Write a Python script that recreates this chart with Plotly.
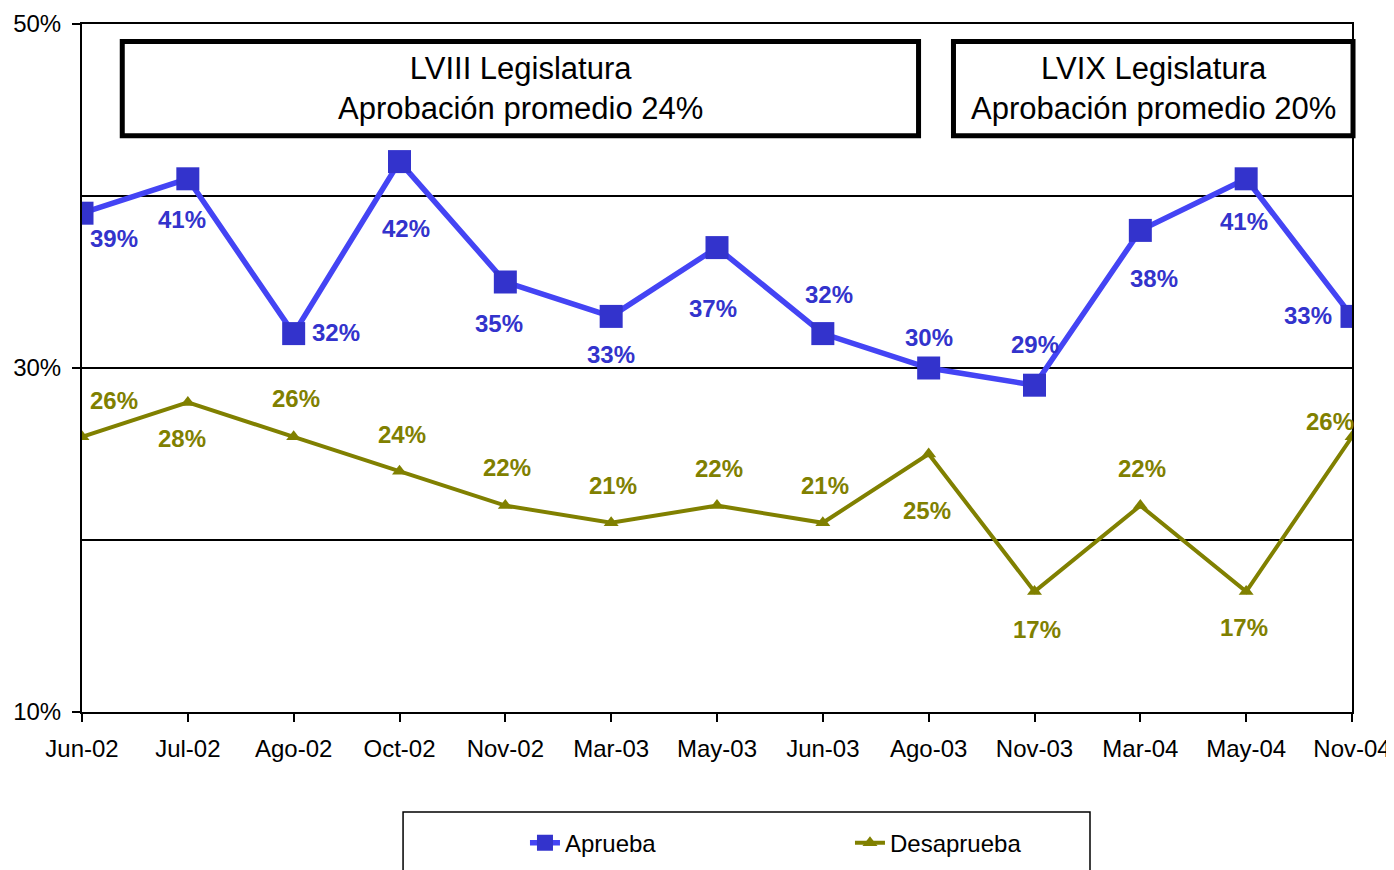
import plotly.graph_objects as go

months = ['Jun-02', 'Jul-02', 'Ago-02', 'Oct-02', 'Nov-02', 'Mar-03', 'May-03',
          'Jun-03', 'Ago-03', 'Nov-03', 'Mar-04', 'May-04', 'Nov-04']
aprueba = [39, 41, 32, 42, 35, 33, 37, 32, 30, 29, 38, 41, 33]
desaprueba = [26, 28, 26, 24, 22, 21, 22, 21, 25, 17, 22, 17, 26]

# label offsets in pixels (dx, dy screen-down)
off_aprueba = [(32, 25), (-6, 41), (42, -1), (6, 67), (-6, 41), (0, 38), (-4, 61),
               (6, -39), (0, -31), (0, -41), (14, 48), (-2, 43), (-44, -1)]
off_desaprueba = [(32, -36), (-6, 36), (2, -38), (2, -37), (2, -38), (2, -37), (2, -37),
                  (2, -37), (-2, 56), (2, 38), (2, -37), (-2, 36), (-22, -15)]

FONT = 'Liberation Sans, Arial, sans-serif'
BLUE_LINE = '#4444F4'
BLUE = '#3333CC'
OLIVE = '#808000'

fig = go.Figure()
fig.add_trace(go.Scatter(
    x=months, y=aprueba, name='Aprueba', mode='lines+markers',
    line=dict(color=BLUE_LINE, width=5.5),
    marker=dict(symbol='square', size=23, color=BLUE),
))
fig.add_trace(go.Scatter(
    x=months, y=desaprueba, name='Desaprueba', mode='lines+markers',
    line=dict(color=OLIVE, width=4),
    marker=dict(symbol='triangle-up', size=13, color=OLIVE),
))

annotations = []
for m, v, (dx, dy) in zip(months, aprueba, off_aprueba):
    annotations.append(dict(x=m, y=v, xref='x', yref='y', text=f'{v}%', showarrow=False,
                            xshift=dx, yshift=-dy,
                            font=dict(family=FONT, size=24, color=BLUE, weight='bold')))
for m, v, (dx, dy) in zip(months, desaprueba, off_desaprueba):
    annotations.append(dict(x=m, y=v, xref='x', yref='y', text=f'{v}%', showarrow=False,
                            xshift=dx, yshift=-dy,
                            font=dict(family=FONT, size=24, color=OLIVE, weight='bold')))

# legislature boxes
annotations.append(dict(x=0.3453, y=0.906, xref='paper', yref='paper', showarrow=False,
                        xanchor='center', yanchor='middle',
                        text='LVIII Legislatura<br>Aprobación promedio 24%',
                        font=dict(family=FONT, size=31, color='black')))
annotations.append(dict(x=0.8435, y=0.906, xref='paper', yref='paper', showarrow=False,
                        xanchor='center', yanchor='middle',
                        text='LVIX Legislatura<br>Aprobación promedio 20%',
                        font=dict(family=FONT, size=31, color='black')))

shapes = [
    dict(type='rect', xref='paper', yref='paper', x0=0.0317, x1=0.6587, y0=0.8375, y1=0.9745,
         line=dict(color='black', width=5), fillcolor='white', layer='below'),
    dict(type='rect', xref='paper', yref='paper', x0=0.6862, x1=1.0008, y0=0.8375, y1=0.9745,
         line=dict(color='black', width=5), fillcolor='white', layer='below'),
    dict(type='rect', xref='paper', yref='paper', x0=0.2528, x1=0.7937, y0=-0.26, y1=-0.1453,
         line=dict(color='black', width=1.5)),
]

# page body adds an 8px offset, so the figure is sized to fit the window
fig.update_layout(
    width=1386, height=862,
    margin=dict(l=74, r=42, t=16, b=158, autoexpand=False),
    paper_bgcolor='white', plot_bgcolor='white',
    font=dict(family=FONT, size=24, color='black'),
    showlegend=True,
    legend=dict(orientation='h', x=0.3488, y=-0.158, xanchor='left', yanchor='top',
                font=dict(family=FONT, size=24, color='black'),
                entrywidth=280, entrywidthmode='pixels', bgcolor='rgba(0,0,0,0)'),
    annotations=annotations,
    shapes=shapes,
    xaxis=dict(
        type='category', range=[0, 12], showgrid=False, automargin=False,
        showline=True, linecolor='black', linewidth=2, mirror=True,
        ticks='outside', ticklen=8, tickwidth=2, tickcolor='black',
        tickfont=dict(family=FONT, size=24), ticklabelstandoff=6,
    ),
    yaxis=dict(
        range=[10, 50], tick0=10, dtick=20, ticksuffix='%', automargin=False,
        showgrid=True, gridcolor='black', gridwidth=1.5,
        minor=dict(dtick=10, showgrid=True, gridcolor='black', gridwidth=1.5),
        showline=True, linecolor='black', linewidth=2, mirror=True,
        ticks='outside', ticklen=8, tickwidth=2, tickcolor='black',
        tickfont=dict(family=FONT, size=24), zeroline=False, ticklabelstandoff=6,
    ),
)

fig.write_html('out.html')
